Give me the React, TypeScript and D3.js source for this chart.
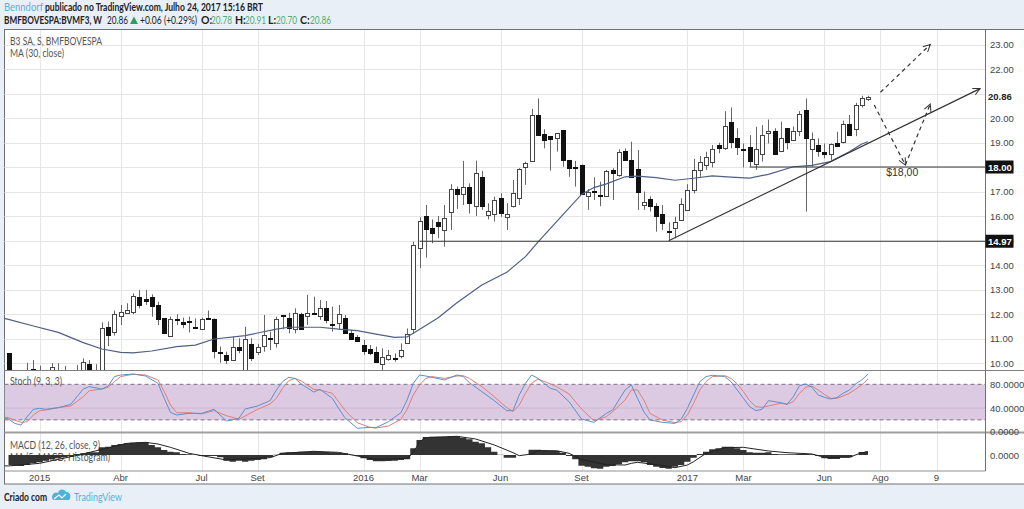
import React from "react";
import * as d3 from "d3";

// weekly candles BVMF3, index 0 = first visible week
const opens = [
  10.4, 9.3, 9.4, 9.4, 9.75, 9.7, 9.5, 9.65, 9.65, 9.6,
  9.5, 9.4, 9.6, 9.95, 9.6, 9.5, 11.46, 11.25, 11.93, 12.03,
  12.1, 12.71, 12.6, 12.71, 12.38, 11.82, 11.08, 11.78, 11.66, 11.72,
  11.46, 11.39, 11.84, 11.8, 10.46, 10.34, 10.15, 10.64, 9.6, 10.76,
  10.42, 10.69, 11.04, 10.84, 11.95, 11.82, 11.39, 12.0, 11.89, 12.03,
  11.89, 12.26, 11.58, 11.62, 11.85, 11.24, 11.07, 10.73, 10.57, 10.43,
  9.99, 10.15, 10.2, 10.3, 10.8, 11.39, 14.72, 16.0, 15.52, 15.74,
  15.42, 16.15, 17.1, 16.88, 17.17, 16.38, 17.58, 16.03, 16.05, 16.75,
  15.95, 16.38, 16.72, 17.99, 18.23, 20.11, 19.36, 19.25, 19.17, 19.5,
  18.29, 17.99, 18.1, 16.83, 17.03, 16.84, 16.82, 17.86, 17.67, 18.65,
  18.3, 17.93, 16.48, 16.71, 16.4, 16.1, 15.4, 15.48, 15.86, 16.24,
  17.06, 17.88, 18.08, 18.18, 18.91, 18.79, 19.85, 19.17, 18.74, 18.8,
  18.1, 18.52, 19.37, 19.47, 18.65, 19.58, 19.09, 19.44, 20.31, 18.72,
  18.88, 18.6, 18.53, 18.97, 19.0, 19.74, 19.54, 20.52, 20.78,
];
const highs = [
  10.4, 9.6, 9.6, 10.01, 10.12, 9.89, 9.65, 10.0, 9.99, 9.88,
  9.65, 9.92, 10.19, 10.12, 9.95, 11.66, 11.69, 12.14, 12.37, 12.44,
  12.84, 12.98, 12.98, 12.8, 12.5, 11.82, 11.89, 11.99, 11.85, 11.89,
  11.82, 11.85, 12.14, 11.82, 10.67, 10.46, 11.08, 11.01, 11.48, 11.01,
  10.78, 11.96, 11.28, 11.89, 11.96, 12.05, 12.23, 12.05, 12.78, 12.71,
  12.57, 12.53, 12.3, 12.37, 11.96, 11.35, 11.14, 10.94, 10.73, 10.67,
  10.6, 10.53, 10.39, 10.8, 11.41, 14.95, 15.95, 16.45, 15.86, 16.0,
  16.45, 17.3, 17.2, 18.25, 17.33, 18.26, 17.84, 16.52, 16.79, 16.93,
  16.52, 17.47, 17.95, 18.22, 20.37, 20.8, 19.54, 19.26, 19.38, 19.5,
  18.29, 18.25, 18.1, 17.1, 17.58, 17.4, 17.88, 17.95, 18.72, 18.76,
  19.03, 18.69, 17.0, 16.8, 16.52, 16.45, 15.74, 15.97, 16.72, 17.3,
  18.33, 18.45, 18.62, 18.9, 18.99, 20.28, 20.43, 19.58, 18.96, 19.3,
  19.64, 19.71, 19.94, 19.58, 19.85, 19.58, 19.65, 20.28, 20.8, 19.41,
  19.17, 18.96, 18.96, 19.44, 19.89, 20.12, 20.62, 20.91, 20.91,
];
const lows = [
  9.3, 9.1, 9.1, 9.3, 9.4, 9.4, 9.3, 9.5, 9.4, 9.3,
  9.2, 9.2, 9.5, 9.5, 9.4, 9.4, 10.69, 11.12, 11.55, 12.1,
  11.99, 12.23, 12.37, 11.89, 11.55, 11.21, 11.08, 11.55, 11.42, 11.25,
  11.38, 11.38, 11.76, 10.19, 10.01, 9.96, 10.15, 10.4, 9.4, 10.08,
  10.33, 10.46, 10.53, 10.63, 11.38, 11.21, 11.21, 11.35, 11.55, 11.96,
  11.76, 11.62, 11.28, 11.35, 11.21, 10.94, 10.87, 10.33, 10.33, 10.03,
  9.71, 10.09, 10.05, 10.19, 10.8, 11.21, 13.87, 14.3, 14.89, 15.09,
  14.75, 15.43, 16.29, 16.45, 16.1, 16.0, 16.25, 15.86, 15.77, 15.97,
  15.43, 16.35, 16.45, 17.27, 18.2, 19.3, 18.76, 17.85, 18.63, 18.01,
  17.6, 17.2, 16.93, 16.25, 16.65, 16.4, 16.8, 16.65, 17.6, 18.28,
  17.6, 16.25, 16.25, 16.18, 15.36, 15.43, 14.99, 15.09, 15.83, 16.24,
  16.92, 17.6, 17.88, 17.98, 18.56, 18.69, 18.76, 18.49, 17.98, 18.01,
  17.88, 18.22, 18.96, 18.49, 18.62, 18.72, 19.08, 19.26, 16.18, 18.01,
  18.42, 18.35, 18.28, 18.83, 18.96, 19.26, 19.26, 20.43, 20.7,
];
const closes = [
  9.5, 9.5, 9.3, 9.6, 9.73, 9.6, 9.6, 9.85, 9.6, 9.5,
  9.4, 9.6, 10.03, 9.6, 9.5, 11.44, 11.12, 12.0, 12.08, 12.16,
  12.75, 12.4, 12.5, 12.33, 11.8, 11.21, 11.78, 11.76, 11.58, 11.7,
  11.44, 11.8, 11.8, 10.49, 10.4, 10.15, 10.67, 10.53, 10.97, 10.19,
  10.64, 11.14, 10.98, 11.8, 11.93, 11.42, 12.05, 11.39, 12.03, 12.02,
  12.23, 11.76, 11.56, 12.0, 11.24, 11.01, 10.9, 10.5, 10.39, 10.03,
  10.26, 10.31, 10.18, 10.53, 11.17, 14.82, 15.81, 15.47, 15.32, 15.58,
  15.9, 17.1, 16.91, 17.18, 16.5, 17.74, 16.41, 16.19, 16.64, 16.14,
  16.07, 16.93, 17.92, 18.16, 20.11, 19.31, 19.1, 19.13, 19.37, 18.29,
  17.95, 17.98, 16.93, 17.0, 17.0, 16.83, 17.82, 17.72, 18.6, 18.3,
  17.6, 17.0, 16.59, 16.42, 15.99, 15.74, 15.36, 15.74, 16.5, 17.05,
  17.89, 18.22, 18.39, 18.72, 18.8, 19.69, 19.02, 18.79, 18.71, 18.22,
  18.72, 19.29, 19.47, 18.52, 19.17, 19.02, 19.47, 20.15, 19.16, 19.14,
  18.65, 18.53, 18.94, 18.86, 19.74, 19.29, 20.52, 20.8, 20.86,
];

// MA (30, close), read every few weeks
const maIndex = [-1, 0, 4, 8, 12, 15, 18, 20, 23, 27, 30, 33, 38, 43, 45, 50, 53, 56, 59, 62, 64, 65, 69, 72, 76, 80, 83, 85, 88, 92, 94, 96, 99, 101, 104, 107, 110, 113, 116, 119, 122, 126, 129, 132, 135, 137, 138];
const maValues = [11.84, 11.78, 11.51, 11.25, 10.83, 10.57, 10.43, 10.41, 10.49, 10.67, 10.73, 10.98, 11.12, 11.38, 11.46, 11.46, 11.38, 11.32, 11.18, 11.05, 11.07, 11.21, 11.85, 12.46, 13.18, 13.7, 14.34, 14.93, 15.77, 16.88, 17.16, 17.31, 17.6, 17.63, 17.57, 17.46, 17.54, 17.64, 17.59, 17.55, 17.7, 18.01, 18.07, 18.22, 18.62, 18.94, 19.03];

// Stoch (9, 3, 3)
const stochIndex = [-1, 0, 1, 2, 3, 4, 5, 6, 8, 10, 12, 13, 15, 16, 17, 18, 20, 22, 24, 25, 26, 27, 29, 31, 33, 35, 37, 38, 40, 42, 43, 44, 45, 46, 47, 49, 50, 52, 53, 54, 56, 58, 59, 61, 63, 64, 65, 66, 67, 68, 70, 72, 73, 74, 76, 78, 80, 81, 82, 83, 84, 85, 87, 88, 90, 92, 94, 96, 97, 99, 100, 101, 102, 103, 105, 107, 108, 109, 110, 111, 112, 113, 115, 116, 117, 118, 119, 120, 121, 122, 124, 125, 126, 127, 128, 129, 130, 131, 132, 133, 134, 135, 136, 137, 138];
const stochK = [24, 21.4, 14, 11.3, 25.4, 37.8, 39.4, 37.8, 40.6, 46.2, 72, 76, 72, 77, 93, 95.7, 97.4, 94, 81.7, 56.3, 32.7, 28.2, 31, 31, 37.8, 18, 22.6, 38.3, 43.4, 52.4, 70.4, 84.5, 91.8, 90, 80.6, 67, 71.5, 56.3, 39.4, 23.7, 5.7, 7.4, 6.8, 16.9, 32.1, 53.5, 81.7, 95.7, 94, 91.8, 87.3, 95.7, 93, 82.8, 67.6, 52.4, 35.5, 35.5, 62, 81.7, 95.7, 90, 73.2, 70.4, 50.7, 21.4, 15.8, 31, 36.6, 70.4, 78.9, 56.3, 33.8, 19.7, 15.8, 14, 20.9, 39.4, 62, 84.5, 93, 95.2, 93, 84.5, 70.4, 56.3, 42.3, 35.5, 37.8, 52.4, 49, 46.2, 59, 77.7, 80.6, 75, 62, 58, 55.2, 57.5, 64.8, 70.4, 80.6, 87.3, 97.4];
const stochD = [24.5, 23.7, 19.7, 15.8, 16.9, 28.2, 35.5, 36.6, 40.6, 43.4, 59, 69.3, 72, 74.9, 84.5, 93, 96.9, 95.7, 87.3, 67.6, 45, 32, 32, 29.9, 35.5, 27, 20.9, 26.5, 37.8, 46.8, 56.3, 73.2, 86.2, 90, 85.6, 71.5, 70.4, 64.8, 50.7, 36.6, 15.2, 7.4, 6.2, 9.6, 20.9, 37.8, 62, 78.9, 90, 93, 90, 94, 94.6, 90, 76, 59, 40.6, 33.8, 45, 64.8, 81.7, 89, 80.6, 76, 63.7, 38.3, 18.6, 25.4, 33.8, 53.5, 70.4, 70.4, 53.5, 31, 19.7, 15.2, 17, 28.2, 47.9, 70.4, 84.5, 93, 94.6, 90, 80.6, 67.6, 52.4, 42.3, 41.1, 43.4, 47.9, 46.2, 50.7, 64.8, 75, 77, 70.4, 63, 56.3, 56.3, 60.3, 64.8, 71.5, 78.9, 89];

// MACD histogram, one value per week
const macdHist = [
  -0.167, -0.178, -0.183, -0.167, -0.139, -0.122, -0.094, -0.072, -0.056, -0.039,
  -0.017, 0.017, 0.028, 0.044, 0.044, 0.128, 0.139, 0.167, 0.183, 0.194,
  0.206, 0.211, 0.211, 0.167, 0.128, 0.083, 0.056, 0.044, 0.017, 0.011,
  0.006, -0.017, -0.017, -0.017, -0.039, -0.094, -0.111, -0.094, -0.111, -0.094,
  -0.083, -0.072, -0.039, 0.006, 0.039, 0.044, 0.05, 0.056, 0.056, 0.061,
  0.056, 0.05, 0.044, 0.039, 0.028, 0.006, -0.017, -0.056, -0.083, -0.106,
  -0.106, -0.1, -0.094, -0.083, -0.072, 0.111, 0.25, 0.3, 0.306, 0.306,
  0.306, 0.311, 0.311, 0.289, 0.261, 0.222, 0.194, 0.128, 0.056, 0.006,
  -0.044, -0.044, 0, 0, 0.089, 0.089, 0.078, 0.072, 0.067, 0.039,
  -0.017, -0.072, -0.178, -0.194, -0.222, -0.228, -0.194, -0.183, -0.156, -0.122,
  -0.106, -0.106, -0.122, -0.167, -0.194, -0.217, -0.228, -0.194, -0.167, -0.111,
  -0.044, 0.017, 0.056, 0.094, 0.111, 0.139, 0.139, 0.111, 0.083, 0.044,
  0.039, 0.039, 0.044, 0.017, 0.011, 0.011, 0.011, 0.017, 0.017, 0.011,
  -0.017, -0.056, -0.067, -0.067, -0.039, -0.039, 0, 0.05, 0.061,
];
const macdIndex = [-1, 0, 5, 11, 15, 19, 22, 24, 26, 29, 31, 35, 42, 44, 49, 53, 56, 59, 64, 65, 66, 67, 72, 75, 78, 81, 82, 84, 85, 88, 90, 92, 96, 99, 100, 101, 104, 107, 109, 110, 112, 115, 118, 122, 125, 129, 131, 135, 137, 138];
const macdLine = [-0.18, -0.183, -0.139, -0.006, 0.094, 0.194, 0.211, 0.183, 0.128, 0.028, -0.011, -0.083, -0.044, 0.028, 0.061, 0.044, -0.017, -0.072, -0.056, 0.039, 0.222, 0.289, 0.311, 0.267, 0.167, 0.039, -0.011, 0.017, 0.072, 0.072, 0.028, -0.072, -0.161, -0.167, -0.139, -0.122, -0.161, -0.211, -0.167, -0.111, 0.028, 0.122, 0.128, 0.067, 0.039, 0.017, -0.039, -0.039, 0.039, 0.05];

const priceTicks = [10, 11, 12, 13, 14, 15, 16, 17, 18, 19, 20, 21, 22, 23];
const stochTicks = [80, 40, 0];
const timeTickIndex = [5, 18, 31, 40, 57, 66, 79, 92, 109, 118, 131, 140, 149];
const timeTickLabels = ["2015", "Abr", "Jul", "Set", "2016", "Mar", "Jun", "Set", "2017", "Mar", "Jun", "Ago", "9"];

// header: label, its x, value, value x
const headerQuotes = [
  ["O:", 201, "20.78", 211],
  ["H:", 235, "20.91", 245],
  ["L:", 268, "20.70", 276],
  ["C:", 300, "20.86", 310],
];

// drawings: [start index, start price, end index, end price]
const support1 = [66, 14.97, 157, 14.97];
const support2 = [119, 18.0, 157, 18.0];
const trendArrow = [106, 14.99, 156, 21.2];
const dashUp = [140, 21.05, 148, 23.0];
const dashDown = [139, 20.53, 144, 18.08];
const dashBack = [144, 18.08, 148, 20.57];

const LEFT = 4.5;
const RIGHT = 985.5;
const SANS = "Lato, 'Noto Sans', sans-serif";
const AXIS = "'Liberation Sans', Arial, sans-serif";
const GRID = "#e6e6e6";

const x = d3.scaleLinear().domain([0, 138]).range([8.5, 868]);
const y = d3.scaleLinear().domain([10, 23]).range([363, 44.5]);
const yStoch = d3.scaleLinear().domain([0, 80]).range([431.7, 384.3]);
const yMacd = d3.scaleLinear().domain([0, 1]).range([455, 395]);

const pricePath = d3.line<number[]>().x((d) => x(d[0])).y((d) => y(d[1]));

export default function App() {
  document.body.style.margin = "0";
  document.body.style.background = "#e9eff6";

  const ma = pricePath(maIndex.map((d, i) => [d, maValues[i]])) as string;
  const kPath = d3.line<number>().x((d) => x(d)).y((_, i) => yStoch(stochK[i]))(stochIndex) as string;
  const dPath = d3.line<number>().x((d) => x(d)).y((_, i) => yStoch(stochD[i]))(stochIndex) as string;
  const macdPath = d3.line<number>().x((d) => x(d)).y((_, i) => yMacd(macdLine[i]))(macdIndex) as string;
  const histArea = d3
    .area<number>()
    .x((_, i) => x(i))
    .y0(yMacd(0))
    .y1((d) => yMacd(d))
    .curve(d3.curveStep)(macdHist) as string;

  const drawing = (d: number[]) => pricePath([[d[0], d[1]], [d[2], d[3]]]) as string;

  return (
    <svg width={1024} height={509} style={{ display: "block" }} fontFamily={SANS}>
      <defs>
        <clipPath id="main"><rect x={LEFT} y={30} width={RIGHT - LEFT} height={340} /></clipPath>
        <clipPath id="stoch"><rect x={LEFT} y={371} width={RIGHT - LEFT} height={61} /></clipPath>
        <clipPath id="macd"><rect x={LEFT} y={433} width={RIGHT - LEFT} height={38} /></clipPath>
        <marker id="arrow" markerUnits="userSpaceOnUse" markerWidth={10} markerHeight={10} refX={8} refY={4} orient="auto">
          <path d="M1,0.5 L8,4 L1,7.5" fill="none" stroke="#333" strokeWidth={1} />
        </marker>
      </defs>

      <rect width={1024} height={509} fill="#e9eff6" />
      <rect x={LEFT} y={29.5} width={1024} height={454.5} fill="#fff" stroke="#707070" />

      {/* header */}
      <text x={4} y={11} fontSize={10.5} fill="#55b3dc" textLength={39} lengthAdjust="spacingAndGlyphs">Benndorf</text>
      <text x={45} y={11} fontSize={10.5} fill="#222" fontWeight={700} textLength={218} lengthAdjust="spacingAndGlyphs">publicado no TradingView.com, Julho 24, 2017 15:16 BRT</text>
      <text x={4} y={24} fontSize={10.5} fill="#222" fontWeight={700} textLength={98} lengthAdjust="spacingAndGlyphs">BMFBOVESPA:BVMF3, W</text>
      <text x={107} y={24} fontSize={10.5} fill="#222" textLength={21} lengthAdjust="spacingAndGlyphs">20.86</text>
      <path d="M130,24 L134,16.5 L138,24 Z" fill="#2e9e5b" />
      <text x={140} y={24} fontSize={10.5} fill="#222" textLength={57} lengthAdjust="spacingAndGlyphs">+0.06 (+0.29%)</text>
      {headerQuotes.map(([k, px, v, vx]) => (
        <g key={k as string} fontSize={10.5}>
          <text x={px as number} y={24} fill="#222" fontWeight={700}>{k}</text>
          <text x={vx as number} y={24} fill="#4caf72" textLength={21} lengthAdjust="spacingAndGlyphs">{v}</text>
        </g>
      ))}

      {/* grids */}
      <g stroke={GRID} strokeWidth={1}>
        {priceTicks.map((t) => (
          <line key={t} x1={LEFT} x2={RIGHT} y1={Math.round(y(t)) + 0.5} y2={Math.round(y(t)) + 0.5} />
        ))}
        {timeTickIndex.map((t) => (
          <line key={t} x1={Math.round(x(t)) + 0.5} x2={Math.round(x(t)) + 0.5} y1={30} y2={471} />
        ))}
      </g>

      {/* candles */}
      <g clipPath="url(#main)">
        {closes.map((c, i) => {
          const up = c >= opens[i];
          const top = y(Math.max(opens[i], c));
          const h = Math.max(1, y(Math.min(opens[i], c)) - top);
          const cx = Math.round(x(i)) + 0.5;
          return (
            <g key={i}>
              <line x1={cx} x2={cx} y1={y(highs[i])} y2={y(lows[i])} stroke="#666" />
              <rect x={cx - 2} y={Math.round(top) + 0.5} width={4} height={Math.round(h)} fill={up ? "#fff" : "#111"} stroke={up ? "#444" : "#111"} />
            </g>
          );
        })}
        <path d={ma} fill="none" stroke="#4f5f86" strokeWidth={1.2} />
        <path d={drawing(support1)} stroke="#333" strokeWidth={1} fill="none" />
        <path d={drawing(support2)} stroke="#333" strokeWidth={1} fill="none" />
        <path d={drawing(trendArrow)} stroke="#333" strokeWidth={1.2} fill="none" markerEnd="url(#arrow)" />
        <path d={drawing(dashUp)} stroke="#333" strokeWidth={1.2} strokeDasharray="4 3.5" fill="none" markerEnd="url(#arrow)" />
        <path d={drawing(dashDown)} stroke="#333" strokeWidth={1.2} strokeDasharray="4 3.5" fill="none" markerEnd="url(#arrow)" />
        <path d={drawing(dashBack)} stroke="#333" strokeWidth={1.2} strokeDasharray="4 3.5" fill="none" markerEnd="url(#arrow)" />
        <text x={x(143.5)} y={y(17.62)} fontSize={10.5} fill="#333" textAnchor="middle" fontFamily={AXIS}>$18,00</text>
      </g>
      <g fontSize={10.5} fill="#555">
        <text x={10} y={45} textLength={92} lengthAdjust="spacingAndGlyphs">B3 SA, S, BMFBOVESPA</text>
        <text x={10} y={57} textLength={54} lengthAdjust="spacingAndGlyphs">MA (30, close)</text>
      </g>

      {/* stochastic pane */}
      <g clipPath="url(#stoch)">
        <rect x={LEFT} y={yStoch(80)} width={RIGHT - LEFT} height={yStoch(20) - yStoch(80)} fill="#dcc9e2" />
        <line x1={LEFT} x2={RIGHT} y1={yStoch(40)} y2={yStoch(40)} stroke="#cdb8d4" />
        {[80, 20].map((t) => (
          <line key={t} x1={LEFT} x2={RIGHT} y1={yStoch(t)} y2={yStoch(t)} stroke="#7d6f84" strokeDasharray="4 3" />
        ))}
        <path d={dPath} fill="none" stroke="#e07f74" />
        <path d={kPath} fill="none" stroke="#5d8fcb" />
      </g>
      <text x={10} y={385} fontSize={10.5} fill="#555" textLength={52} lengthAdjust="spacingAndGlyphs">Stoch (9, 3, 3)</text>

      {/* MACD pane */}
      <text x={10} y={449} fontSize={10.5} fill="#555" textLength={90} lengthAdjust="spacingAndGlyphs">MACD (12, 26, close, 9)</text>
      <text x={10} y={461} fontSize={10.5} fill="#555" textLength={100} lengthAdjust="spacingAndGlyphs">MA (5, MACD, Histogram)</text>
      <g clipPath="url(#macd)">
        <path d={histArea} fill="#333" />
        <path d={macdPath} fill="none" stroke="#222" strokeWidth={1} />
      </g>

      {/* pane separators */}
      <line x1={LEFT} x2={1024} y1={370.5} y2={370.5} stroke="#808080" />
      <line x1={LEFT} x2={1024} y1={432.5} y2={432.5} stroke="#a0a0a0" strokeWidth={2} />
      <line x1={LEFT} x2={RIGHT} y1={471} y2={471} stroke="#909090" />
      <line x1={RIGHT} x2={RIGHT} y1={30} y2={471} stroke="#707070" />

      {/* axes */}
      <g fontFamily={AXIS} fontSize={9.5} fill="#444">
        {priceTicks.filter((t) => t !== 21).map((t) => (
          <text key={t} x={990} y={y(t) + 3.5}>{d3.format(".2f")(t)}</text>
        ))}
        {stochTicks.map((t) => (
          <text key={t} x={990} y={yStoch(t) + 3.5}>{d3.format(".4f")(t)}</text>
        ))}
        <text x={990} y={yMacd(0) + 3.5}>{d3.format(".4f")(0)}</text>
        {timeTickIndex.map((t, i) => (
          <text key={t} x={x(t)} y={481} textAnchor="middle">{timeTickLabels[i]}</text>
        ))}
      </g>
      <rect x={RIGHT + 1} y={y(20.86) - 7} width={38} height={14} fill="#fff" />
      <text x={988} y={y(20.86) + 3.5} fontFamily={AXIS} fontSize={9.5} fontWeight={700} fill="#222">20.86</text>
      {[18, 14.97].map((t) => (
        <g key={t}>
          <rect x={RIGHT} y={y(t) - 6.5} width={28} height={13} fill="#111" />
          <text x={988} y={y(t) + 3.5} fontFamily={AXIS} fontSize={9.5} fontWeight={700} fill="#fff">{d3.format(".2f")(t)}</text>
        </g>
      ))}

      {/* footer */}
      <text x={4} y={501} fontSize={10.5} fill="#222" fontWeight={700} textLength={43} lengthAdjust="spacingAndGlyphs">Criado com</text>
      <path d="M53,500 C50,495 55,491 58,493 C59,488 65,489 66,492 C70,491 72,497 69,500 Z" fill="#4fb0d8" />
      <path d="M54,499 L59,495 L62,498 L66,494" fill="none" stroke="#fff" strokeWidth={1.2} />
      <text x={74} y={501} fontSize={10.5} fill="#55b3dc" textLength={48} lengthAdjust="spacingAndGlyphs">TradingView</text>
    </svg>
  );
}
